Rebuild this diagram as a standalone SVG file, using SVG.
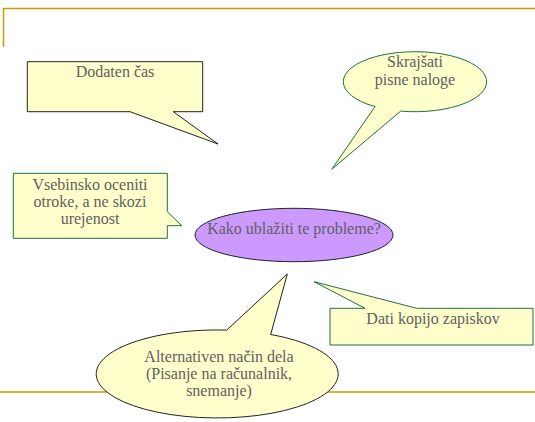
<svg xmlns="http://www.w3.org/2000/svg" width="535" height="422" viewBox="0 0 535 422">
<style>
.frame{stroke:#cc9900;stroke-width:1.5;fill:none}
.cb{fill:#ffffcc;stroke:#222;stroke-width:1}
.cg{fill:#ffffcc;stroke:#1f7040;stroke-width:1}
.t{font-family:"Liberation Serif","Times New Roman",serif;font-size:16px;fill:#606060;text-anchor:middle}
</style>
<rect width="535" height="422" fill="#fff"/>
<g id="frame">
<path class="frame" d="M3.5,47 V8.5 H535"/>
<path class="frame" d="M0,392 H535"/>
</g>
<g id="connectors"></g>
<g id="dodaten">
<path class="cb" d="M27.3,61.7 H202.7 V111.7 H173.3 L218,144 L130,111.7 H27.3 Z"/>
<text class="t" x="115" y="77">Dodaten čas</text>
</g>
<g id="skrajsati">
<path class="cg" d="M375,106.6 L331.7,169.3 L400.7,111.1 A71.7,30 0 1 0 375,106.6 Z"/>
<text class="t" x="415" y="67">Skrajšati</text>
<text class="t" x="415" y="85">pisne naloge</text>
</g>
<g id="vsebinsko">
<path class="cg" d="M13.3,173.3 H167.3 V211.7 L181.7,225.7 L167.3,225.7 V238.3 H13.3 Z"/>
<text class="t" x="90" y="189.5">Vsebinsko oceniti</text>
<text class="t" x="90" y="206.5">otroke, a ne skozi</text>
<text class="t" x="90" y="224">urejenost</text>
</g>
<g id="kako">
<ellipse cx="294" cy="235" rx="99" ry="26.7" fill="#cc99ff" stroke="#222" stroke-width="1"/>
<text class="t" x="294" y="234">Kako ublažiti te probleme?</text>
</g>
<g id="dati">
<path class="cg" d="M330,308.3 H365 L314,281.7 L416.7,308.3 H533 V345 H330 Z"/>
<text class="t" x="433" y="324">Dati kopijo zapiskov</text>
</g>
<g id="alternativen">
<path class="cb" d="M226.7,330.1 L287.3,274 L270.7,334.5 A121,44 0 1 1 226.7,330.1 Z"/>
<text class="t" x="219" y="362">Alternativen način dela</text>
<text class="t" x="219" y="378.5">(Pisanje na računalnik,</text>
<text class="t" x="219" y="396">snemanje)</text>
</g>
</svg>
